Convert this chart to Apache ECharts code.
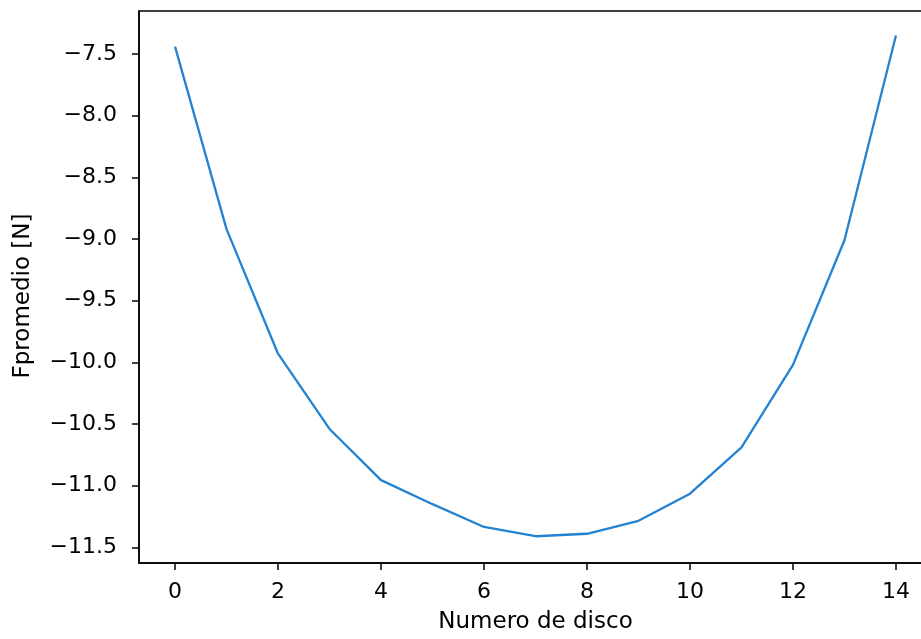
<!DOCTYPE html>
<html>
<head>
<meta charset="utf-8">
<script src="https://cdn.jsdelivr.net/npm/echarts@6/dist/echarts.min.js"></script>
<style>
  html, body { margin: 0; padding: 0; background: #fff; overflow: hidden; }
  /* the original figure is cut on the right, so the chart is wider than the window */
  #chart { width: 944px; height: 639px; }
</style>
</head>
<body>
<div id="chart"></div>
<script>
// Fuerza promedio por disco
const discos = [0, 1, 2, 3, 4, 5, 6, 7, 8, 9, 10, 11, 12, 13, 14]
const fPromedio = [-7.44, -8.92, -9.93, -10.54, -10.955, -11.15, -11.335, -11.41, -11.39, -11.285, -11.065, -10.69, -10.02, -9.01, -7.35]
const xTicks = [0, 2, 4, 6, 8, 10, 12, 14]
const yTicks = [-7.5, -8.0, -8.5, -9.0, -9.5, -10.0, -10.5, -11.0, -11.5]

const font = 'DejaVu Sans'
const fmtY = v => v.toFixed(1).replace('-', '\u2212')

const chart = echarts.init(document.getElementById('chart'))
chart.setOption({
  animation: false,
  backgroundColor: '#fff',
  grid: {
    left: 139,
    right: 12,
    top: 11,
    bottom: 76,
    show: true,
    borderColor: '#000',
    borderWidth: 1.5,
  },
  xAxis: {
    type: 'value',
    min: -0.7,
    max: 14.7,
    name: 'Numero de disco',
    nameLocation: 'middle',
    nameGap: 48,
    nameTextStyle: { fontFamily: font, fontSize: 23, color: '#000' },
    axisLine: { show: true, onZero: false, lineStyle: { color: '#000', width: 1.5 } },
    axisTick: { show: true, length: 7, customValues: xTicks, lineStyle: { color: '#000', width: 1.5 } },
    axisLabel: {
      customValues: xTicks,
      margin: 18,
      fontFamily: font,
      fontSize: 22,
      color: '#000',
    },
    splitLine: { show: false },
  },
  yAxis: {
    type: 'value',
    min: -11.627,
    max: -7.151,
    name: 'Fpromedio [N]',
    nameLocation: 'middle',
    nameGap: 104,
    nameRotate: 90,
    nameTextStyle: { fontFamily: font, fontSize: 23, color: '#000', padding: [0, 18, 0, 0] },
    axisLine: { show: true, onZero: false, lineStyle: { color: '#000', width: 1.5 } },
    axisTick: { show: true, length: 7, customValues: yTicks, lineStyle: { color: '#000', width: 1.5 } },
    axisLabel: {
      customValues: yTicks,
      margin: 22,
      fontFamily: font,
      fontSize: 22,
      color: '#000',
      formatter: fmtY,
    },
    splitLine: { show: false },
  },
  series: [{
    type: 'line',
    data: discos.map((d, i) => [d, fPromedio[i]]),
    showSymbol: false,
    lineStyle: { color: '#2383d2', width: 2.3 },
    clip: false,
  }],
})
</script>
</body>
</html>
